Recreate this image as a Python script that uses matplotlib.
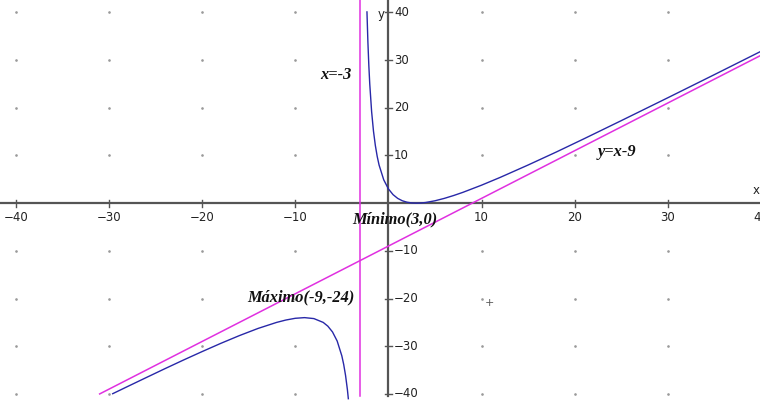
import matplotlib
matplotlib.use("Agg")
import matplotlib.pyplot as plt

# puntos: rama derecha (x > -3)
x_der = [-2.3, -2.2, -2.1, -2.0, -1.8, -1.6, -1.4, -1.2, -1.0, -0.5, 0, 0.5, 1, 1.5, 2, 2.5, 3,
         3.5, 4, 5, 6, 7, 8, 10, 12, 15, 18, 21, 25, 30, 35, 40]
y_der = [40.1, 33.8, 28.9, 25.0, 19.2, 15.1, 12.1, 9.8, 8.0, 4.9, 3.0, 1.79, 1.0, 0.5, 0.2, 0.05, 0,
         0.04, 0.14, 0.5, 1.0, 1.6, 2.27, 3.77, 5.4, 8.0, 10.7, 13.5, 17.3, 22.1, 26.95, 31.84]

# rama izquierda (x < -3)
x_izq = [-29.6, -28, -26, -24, -22, -20, -18, -16, -14, -12, -11, -10, -9, -8, -7, -6.5, -6,
         -5.5, -5, -4.8, -4.6, -4.4, -4.3]
y_izq = [-39.95, -38.44, -36.57, -34.71, -32.89, -31.12, -29.4, -27.77, -26.27, -25.0, -24.5,
         -24.14, -24.0, -24.2, -25.0, -25.79, -27.0, -28.9, -32.0, -33.8, -36.1, -39.1, -41.0]

# asíntotas
asint_obl_x = [-31, 40]
asint_obl_y = [-40, 31]
asint_vert_x = -3

ticks = [-40, -30, -20, -10, 10, 20, 30, 40]

fig = plt.figure(figsize=(7.6, 4.03), dpi=100)
ax = fig.add_axes([0, 0, 1, 1])
ax.set_xlim(-41.7, 39.9)
ax.set_ylim(-41.9, 42.6)
ax.axis("off")

# puntos de la rejilla
gx = [a for a in ticks for b in ticks]
gy = [b for a in ticks for b in ticks]
ax.scatter(gx, gy, s=0.8, color="#9a9a9a", zorder=1)

# ejes
eje = "#555555"
ax.plot([-41.7, 39.9], [0, 0], color=eje, lw=1.6, zorder=2)
ax.plot([0, 0], [-40.4, 42.6], color=eje, lw=1.6, zorder=2)
for t in ticks:
    ax.plot([t, t], [-0.7, 0.7], color=eje, lw=1, zorder=2)
    ax.plot([-0.35, 0.35], [t, t], color=eje, lw=1, zorder=2)
    lab = str(t).replace("-", "\u2212")
    ax.text(t, -1.6, lab, ha="center", va="top", fontsize=8.5, color="#222222")
    ax.text(0.6, t, lab, ha="left", va="center", fontsize=8.5, color="#222222")
ax.text(39.5, 2.6, "x", ha="center", va="center", fontsize=8.5, color="#222222")
ax.text(-0.8, 39.5, "y", ha="center", va="center", fontsize=8.5, color="#222222")

# curvas
magenta = "#e030e0"
azul = "#2828a8"
ax.plot(asint_obl_x, asint_obl_y, color=magenta, lw=1.1, zorder=3)
ax.plot([asint_vert_x, asint_vert_x], [-40.5, 42.6], color=magenta, lw=1.1, zorder=3)
ax.plot(x_der, y_der, color=azul, lw=1.0, zorder=4)
ax.plot(x_izq, y_izq, color=azul, lw=1.0, zorder=4)

# etiquetas
fuente = dict(family="Liberation Serif", style="italic", weight="bold", fontsize=11.8, color="#111111")
ax.text(-5.6, 26.9, "x=-3", ha="center", va="center", **fuente)
ax.text(24.5, 10.8, "y=x-9", ha="center", va="center", **fuente)
ax.text(0.7, -3.5, "Mínimo(3,0)", ha="center", va="center", **fuente)
ax.text(-9.4, -19.8, "Máximo(-9,-24)", ha="center", va="center", **fuente)
ax.text(10.9, -21.0, "+", ha="center", va="center", fontsize=8, color="#555555")

fig.savefig("out.png", dpi=100)
